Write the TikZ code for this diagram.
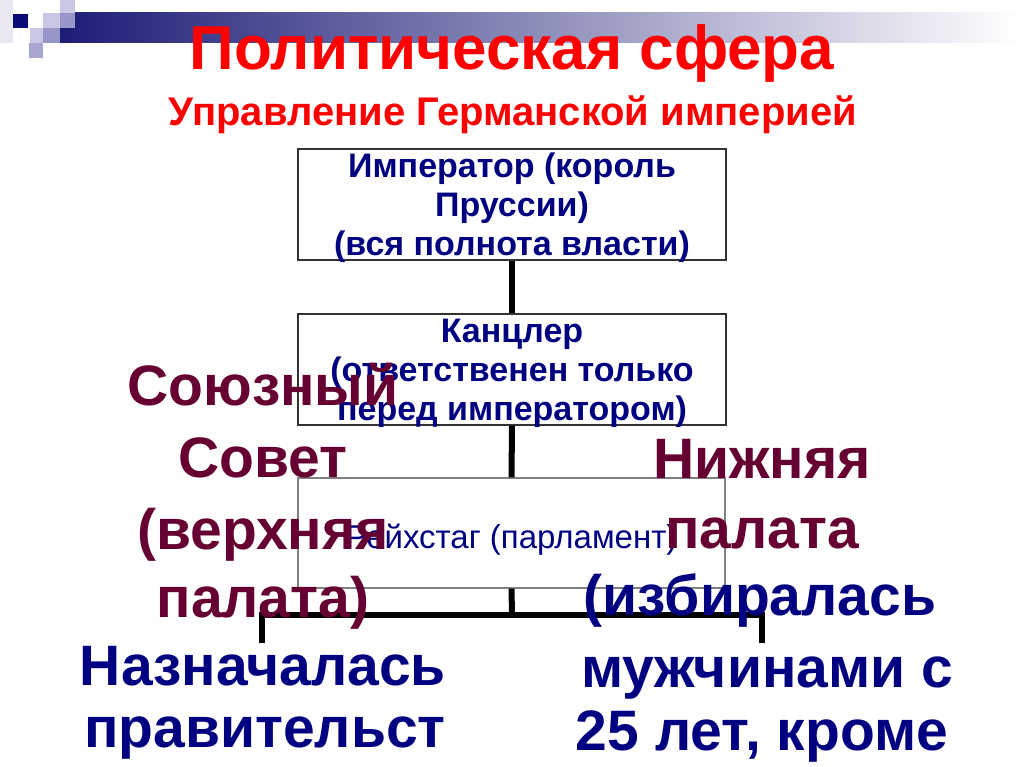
\documentclass[tikz,border=0pt]{standalone}
\usepackage{fontspec}
\setmainfont{Liberation Sans}
\definecolor{navytxt}{RGB}{0,0,128}
\definecolor{maroontxt}{RGB}{102,0,51}
\definecolor{titlered}{RGB}{255,0,0}
\definecolor{bandnavy}{RGB}{28,28,118}
\definecolor{sqdark}{RGB}{10,10,120}
\definecolor{sqmid}{RGB}{150,150,200}
\definecolor{sqlight}{RGB}{200,200,228}
\definecolor{sqfaint}{RGB}{232,232,242}
\begin{document}
\begin{tikzpicture}[x=1pt,y=-1pt,
  boxstyle/.style={draw=black!80, line width=1.2pt, fill=white, minimum width=428pt, minimum height=111pt, inner sep=0pt},
  boxtxt/.style={inner sep=0pt, align=center, text=navytxt, font=\fontsize{34}{39}\selectfont\bfseries},
  rboxstyle/.style={draw=black!50, line width=1.2pt, fill=white, minimum width=427pt, minimum height=110pt, inner sep=0pt},
  conn/.style={line width=6pt, black},
  bigred/.style={anchor=base, inner sep=0pt, text=maroontxt, font=\fontsize{57}{57}\selectfont\bfseries},
  bigblue/.style={anchor=base, inner sep=0pt, text=navytxt, font=\fontsize{57}{57}\selectfont\bfseries}]
\useasboundingbox (0,0) rectangle (1024,767);
\fill[white] (0,0) rectangle (1024,767);
% decoration
\shade[left color=bandnavy, right color=white] (60,13) rectangle (1020,43);
\fill[sqfaint] (0,0) rectangle (13,43);
\fill[sqdark] (13,14) rectangle (28,28);
\fill[sqlight] (43,13) rectangle (60,28);
\fill[sqlight] (60,0) rectangle (75,13);
\fill[sqmid] (60,13) rectangle (75,28);
\fill[sqlight] (30,28) rectangle (43,43);
\fill[sqmid] (43,28) rectangle (60,43);
\fill[sqmid!85] (29,43) rectangle (43,58);
% titles
\node[anchor=base, inner sep=0pt, text=titlered, font=\fontsize{62}{62}\selectfont\bfseries] (title) at (512,70) {Политическая сфера};
\node[anchor=base, inner sep=0pt, text=titlered, font=\fontsize{40}{40}\selectfont\bfseries] (subtitle) at (513,126) {Управление Германской империей};
% boxes
\node[boxstyle] (emperor) at (512,204.5) {};
\node[boxstyle] (chancellor) at (512,369.5) {};
\node[rboxstyle] (reichstag) at (511.5,533) {};
% connectors
\coordinate (hub) at (512,615);
\coordinate (lc) at (262,615);
\coordinate (rc) at (762,615);
\coordinate (lt) at (262,643);
\coordinate (rt) at (762,643);
\draw[conn] (emperor.south) -- (chancellor.north);
\draw[conn] (chancellor.south) -- (reichstag.north);
\draw[conn] (reichstag.south) -- (hub);
\draw[conn, line join=miter] (lt) -- (lc) -- (rc) -- (rt);
% box texts
\node[boxtxt] (emperortxt) at (512,208) {Император (король\\Пруссии)\\(вся полнота власти)};
\node[boxtxt] (chancellortxt) at (512,373) {Канцлер\\(ответственен только\\перед императором)};
\node[anchor=base, inner sep=0pt, text=navytxt, font=\fontsize{33}{33}\selectfont] (reichstagtxt) at (511.5,548) {Рейхстаг (парламент)};
% left texts
\node[bigred] (l1) at (263,405) {Союзный};
\node[bigred] (l2) at (263,477) {Совет};
\node[bigred] (l3) at (263,549) {(верхняя};
\node[bigred] (l4) at (263,617) {палата)};
\node[bigblue] (l5) at (263,685) {Назначалась};
\node[bigblue] (l6) at (265,747) {правительст};
% right texts
\node[bigred] (r1) at (762,478) {Нижняя};
\node[bigred] (r2) at (762,548) {палата};
\node[bigblue] (r3) at (760,615) {(избиралась};
\node[bigblue] (r4) at (767,687) {мужчинами с};
\node[bigblue] (r5) at (762,750) {25 лет, кроме};
\end{tikzpicture}
\end{document}
